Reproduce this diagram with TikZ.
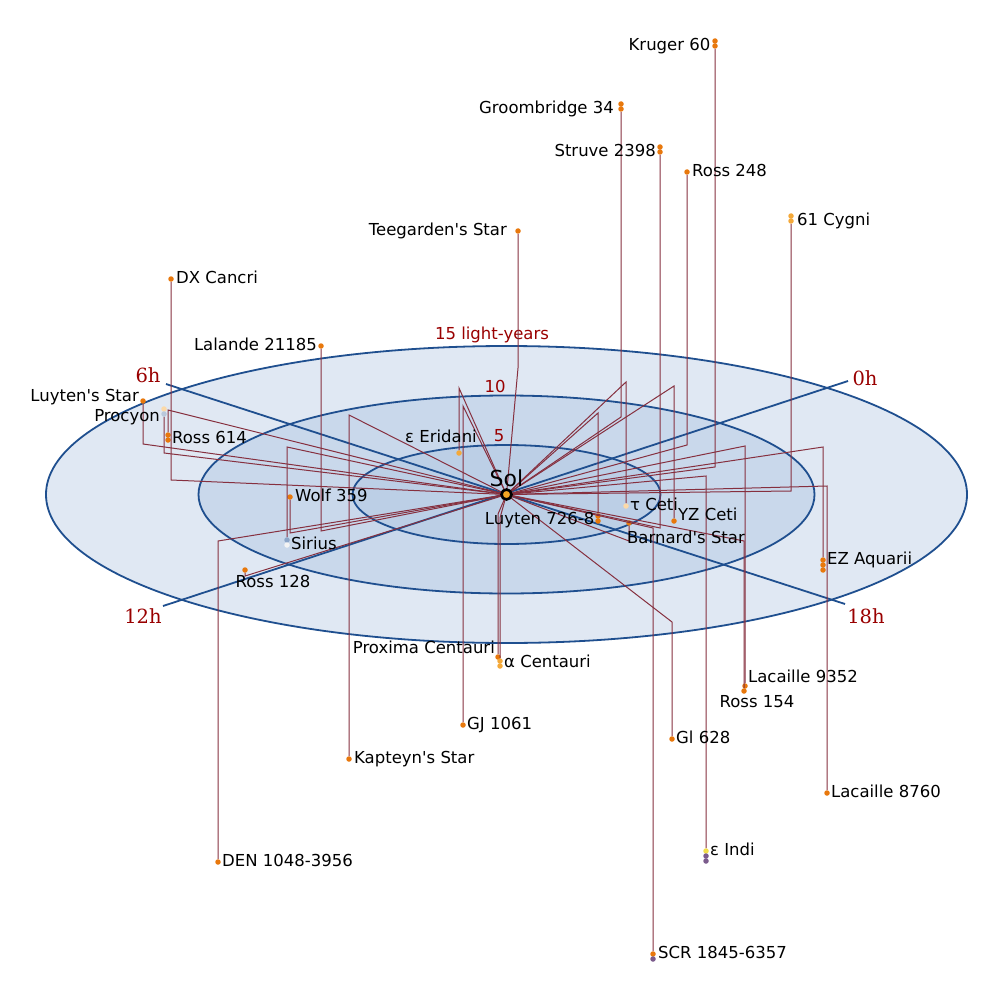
\documentclass[tikz,border=0pt]{standalone}
\usepackage{fontspec}
\setmainfont{DejaVu Sans}
\newfontfamily\hourfont{DejaVu Serif}
\usetikzlibrary{positioning}
\definecolor{planeout}{HTML}{E0E8F3}
\definecolor{planemid}{HTML}{C9D8EB}
\definecolor{planein}{HTML}{BCCFE6}
\definecolor{ringblue}{HTML}{1F4F8F}
\definecolor{linkred}{HTML}{86303F}
\definecolor{hourred}{HTML}{990000}
\definecolor{starorange}{HTML}{E8780C}
\definecolor{stargold}{HTML}{F4A93A}
\definecolor{starpale}{HTML}{FCD9A8}
\definecolor{starblue}{HTML}{8CA6C9}
\definecolor{starwhite}{HTML}{F4F4F4}
\definecolor{staryellow}{HTML}{F2DE4A}
\definecolor{starpurple}{HTML}{7B5B8C}
\definecolor{starsky}{HTML}{B9C8DC}
\definecolor{sungold}{HTML}{F5A623}

\begin{document}
\begin{tikzpicture}[x=1pt,y=-1pt,
  every node/.style={align=center},
  ring/.style={draw=ringblue,line width=1.8pt},
  axis/.style={draw=ringblue,line width=1.8pt},
  link/.style={draw=linkred,line width=1pt},
  dot/.style={circle,fill=#1,inner sep=0pt,minimum size=5.5pt},
  dot/.default=starorange,
  lbl/.style={font=\fontsize{16.5}{18}\selectfont,inner sep=1pt,text height=12pt,text depth=3.5pt},
  hour/.style={font=\hourfont\fontsize{19.5}{21}\selectfont,text=hourred,inner sep=1pt},
  dist/.style={font=\fontsize{16.5}{18}\selectfont,text=hourred,inner sep=1pt},
  sun/.style={circle,draw=black,line width=2.6pt,fill=sungold,inner sep=0pt,minimum size=10pt}]

  \useasboundingbox (0,0) rectangle (1000,1000);
  \coordinate (o) at (506.5,494.5);

  % Ebene mit Ringen (5, 10, 15 Lichtjahre)
  \draw[ring,fill=planeout] (o) ellipse [x radius=460.5pt,y radius=148.5pt];
  \draw[ring,fill=planemid] (o) ellipse [x radius=308pt,y radius=99pt];
  \draw[ring,fill=planein] (o) ellipse [x radius=154pt,y radius=49.5pt];

  % Stundenachsen
  \coordinate (h0) at (848,381);
  \coordinate (h6) at (166,384);
  \coordinate (h12) at (163,606);
  \coordinate (h18) at (845,604);
  \draw[axis] (h12) -- (h0);
  \draw[axis] (h6) -- (h18);
  \node[hour] (h0l) at (865,378) {0h};
  \node[hour] (h6l) at (148,375) {6h};
  \node[hour] (h12l) at (143,616) {12h};
  \node[hour] (h18l) at (866,616) {18h};
  \node[dist] (r15) at (492,335) {15 light-years};
  \node[dist] (r10) at (495,386) {10};
  \node[dist] (r5) at (499,436) {5};

  % Fusspunkte in der Ebene
  \coordinate (kruger-f) at (715,467);
  \coordinate (groom-f) at (621,417);
  \coordinate (struve-f) at (660,528);
  \coordinate (ross248-f) at (687,445);
  \coordinate (cyg-f) at (791,491);
  \coordinate (teeg-f) at (518,368);
  \coordinate (dxcnc-f) at (171,480);
  \coordinate (lal-f) at (321,531);
  \coordinate (luytens-f) at (143,444);
  \coordinate (procyon-f) at (164,453);
  \coordinate (ross614-f) at (168,410);
  \coordinate (eri-f) at (459,388);
  \coordinate (wolf-f) at (290,533);
  \coordinate (sirius-f) at (287,447);
  \coordinate (ross128-f) at (245,576);
  \coordinate (luy726-f) at (598,413);
  \coordinate (tauc-f) at (626,382);
  \coordinate (yzc-f) at (674,386);
  \coordinate (barn-f) at (629,541);
  \coordinate (ezaqr-f) at (823,447);
  \coordinate (prox-f) at (498,514);
  \coordinate (acen-f) at (500,518);
  \coordinate (lac9352-f) at (745,446);
  \coordinate (ross154-f) at (744,541);
  \coordinate (gj1061-f) at (463,406);
  \coordinate (gl628-f) at (672,622);
  \coordinate (kapteyn-f) at (349,415);
  \coordinate (lac8760-f) at (827,486);
  \coordinate (den-f) at (218,541);
  \coordinate (eind-f) at (706,476);
  \coordinate (scr-f) at (653,528);

  % Sterne
  \node[dot] (kruger) at (715,41) {};
  \node[dot] (kruger-b) at (715,46) {};
  \node[dot] (groom) at (621,104) {};
  \node[dot] (groom-b) at (621,109) {};
  \node[dot] (struve) at (660,147) {};
  \node[dot] (struve-b) at (660,152) {};
  \node[dot] (ross248) at (687,172) {};
  \node[dot=stargold] (cyg) at (791,216) {};
  \node[dot=stargold] (cyg-b) at (791,221) {};
  \node[dot] (teeg) at (518,231) {};
  \node[dot] (dxcnc) at (171,279) {};
  \node[dot] (lal) at (321,346) {};
  \node[dot] (luytens) at (143,401) {};
  \node[dot=starpale] (procyon) at (164,409) {};
  \node[dot=starsky] (procyon-b) at (164,414) {};
  \node[dot] (ross614) at (168,435) {};
  \node[dot] (ross614-b) at (168,440) {};
  \node[dot=stargold] (eri) at (459,453) {};
  \node[dot] (wolf) at (290,497) {};
  \node[dot=starblue] (sirius) at (287,540) {};
  \node[dot=starwhite] (sirius-b) at (287,545) {};
  \node[dot] (ross128) at (245,570) {};
  \node[dot] (luy726) at (598,516) {};
  \node[dot] (luy726-b) at (598,521) {};
  \node[dot=starpale] (tauc) at (626,506) {};
  \node[dot] (yzc) at (674,521) {};
  \node[dot] (barn) at (629,523) {};
  \node[dot] (ezaqr) at (823,560) {};
  \node[dot] (ezaqr-b) at (823,565) {};
  \node[dot] (ezaqr-c) at (823,570) {};
  \node[dot] (prox) at (498,657) {};
  \node[dot=stargold] (acen) at (500,661) {};
  \node[dot=stargold] (acen-b) at (500,666) {};
  \node[dot] (lac9352) at (745,686) {};
  \node[dot] (ross154) at (744,691) {};
  \node[dot] (gj1061) at (463,725) {};
  \node[dot] (gl628) at (672,739) {};
  \node[dot] (kapteyn) at (349,759) {};
  \node[dot] (lac8760) at (827,793) {};
  \node[dot] (den) at (218,862) {};
  \node[dot=staryellow] (eind) at (706,851) {};
  \node[dot=starpurple] (eind-b) at (706,856) {};
  \node[dot=starpurple] (eind-c) at (706,861) {};
  \node[dot] (scr) at (653,954) {};
  \node[dot=starpurple] (scr-b) at (653,959) {};

  % Verbindungen Sol -> Fusspunkt -> Stern
  \draw[link] (o) -- (kruger-f) -- (kruger-b);
  \draw[link] (o) -- (groom-f) -- (groom-b);
  \draw[link] (o) -- (struve-f) -- (struve-b);
  \draw[link] (o) -- (ross248-f) -- (ross248);
  \draw[link] (o) -- (cyg-f) -- (cyg-b);
  \draw[link] (o) -- (teeg-f) -- (teeg);
  \draw[link] (o) -- (dxcnc-f) -- (dxcnc);
  \draw[link] (o) -- (lal-f) -- (lal);
  \draw[link] (o) -- (luytens-f) -- (luytens);
  \draw[link] (o) -- (procyon-f) -- (procyon-b);
  \draw[link] (o) -- (ross614-f) -- (ross614);
  \draw[link] (o) -- (eri-f) -- (eri);
  \draw[link] (o) -- (wolf-f) -- (wolf);
  \draw[link] (o) -- (sirius-f) -- (sirius);
  \draw[link] (o) -- (ross128-f) -- (ross128);
  \draw[link] (o) -- (luy726-f) -- (luy726);
  \draw[link] (o) -- (tauc-f) -- (tauc);
  \draw[link] (o) -- (yzc-f) -- (yzc);
  \draw[link] (o) -- (barn-f) -- (barn);
  \draw[link] (o) -- (ezaqr-f) -- (ezaqr);
  \draw[link] (o) -- (prox-f) -- (prox);
  \draw[link] (o) -- (acen-f) -- (acen);
  \draw[link] (o) -- (lac9352-f) -- (lac9352);
  \draw[link] (o) -- (ross154-f) -- (ross154);
  \draw[link] (o) -- (gj1061-f) -- (gj1061);
  \draw[link] (o) -- (gl628-f) -- (gl628);
  \draw[link] (o) -- (kapteyn-f) -- (kapteyn);
  \draw[link] (o) -- (lac8760-f) -- (lac8760);
  \draw[link] (o) -- (den-f) -- (den);
  \draw[link] (o) -- (eind-f) -- (eind);
  \draw[link] (o) -- (scr-f) -- (scr);

  % Beschriftungen
  \node[lbl,left=0.5pt of kruger-b] (kruger-l) {Kruger 60};
  \node[lbl,left=3pt of groom-b] (groom-l) {Groombridge 34};
  \node[lbl,left=0pt of struve-b] (struve-l) {Struve 2398};
  \node[lbl,right=1pt of ross248] (ross248-l) {Ross 248};
  \node[lbl,right=2pt of cyg-b] (cyg-l) {61 Cygni};
  \node[lbl,left=7pt of teeg] (teeg-l) {Teegarden\textquotesingle s Star};
  \node[lbl,right=1pt of dxcnc] (dxcnc-l) {DX Cancri};
  \node[lbl,left=0pt of lal] (lal-l) {Lalande 21185};
  \node[lbl,left=0pt of luytens,yshift=4pt] (luytens-l) {Luyten\textquotesingle s Star};
  \node[lbl,left=0pt of procyon-b,yshift=-3pt] (procyon-l) {Procyon};
  \node[lbl,right=0pt of ross614-b,yshift=1pt] (ross614-l) {Ross 614};
  \node[lbl,above=3pt of eri,xshift=-18pt] (eri-l) {ε Eridani};
  \node[lbl,right=1pt of wolf] (wolf-l) {Wolf 359};
  \node[lbl,right=0pt of sirius-b] (sirius-l) {Sirius};
  \node[lbl,below=1pt of ross128,xshift=28pt] (ross128-l) {Ross 128};
  \node[lbl,left=-0.5pt of luy726-b,yshift=1pt] (luy726-l) {Luyten 726-8};
  \node[lbl,right=0pt of tauc] (tauc-l) {τ Ceti};
  \node[lbl,right=0pt of yzc,yshift=5pt] (yzc-l) {YZ Ceti};
  \node[lbl,below=0pt of barn,xshift=57pt,yshift=-4pt] (barn-l) {Barnard\textquotesingle s Star};
  \node[lbl,right=0pt of ezaqr] (ezaqr-l) {EZ Aquarii};
  \node[lbl,left=-1pt of prox,yshift=8pt] (prox-l) {Proxima Centauri};
  \node[lbl,right=0pt of acen,yshift=-2pt] (acen-l) {α Centauri};
  \node[lbl,right=-1pt of lac9352,yshift=8pt] (lac9352-l) {Lacaille 9352};
  \node[lbl,below=0pt of ross154,xshift=13pt] (ross154-l) {Ross 154};
  \node[lbl,right=0pt of gj1061] (gj1061-l) {GJ 1061};
  \node[lbl,right=0pt of gl628] (gl628-l) {Gl 628};
  \node[lbl,right=1pt of kapteyn] (kapteyn-l) {Kapteyn\textquotesingle s Star};
  \node[lbl,right=0pt of lac8760] (lac8760-l) {Lacaille 8760};
  \node[lbl,right=0pt of den] (den-l) {DEN 1048-3956};
  \node[lbl,right=0pt of eind] (eind-l) {ε Indi};
  \node[lbl,right=1pt of scr] (scr-l) {SCR 1845-6357};

  % Sonne
  \node[sun] (sol) at (o) {};
  \node[font=\fontsize{22}{24}\selectfont,inner sep=1pt,above=0pt of sol] (sol-l) {Sol};
\end{tikzpicture}
\end{document}
